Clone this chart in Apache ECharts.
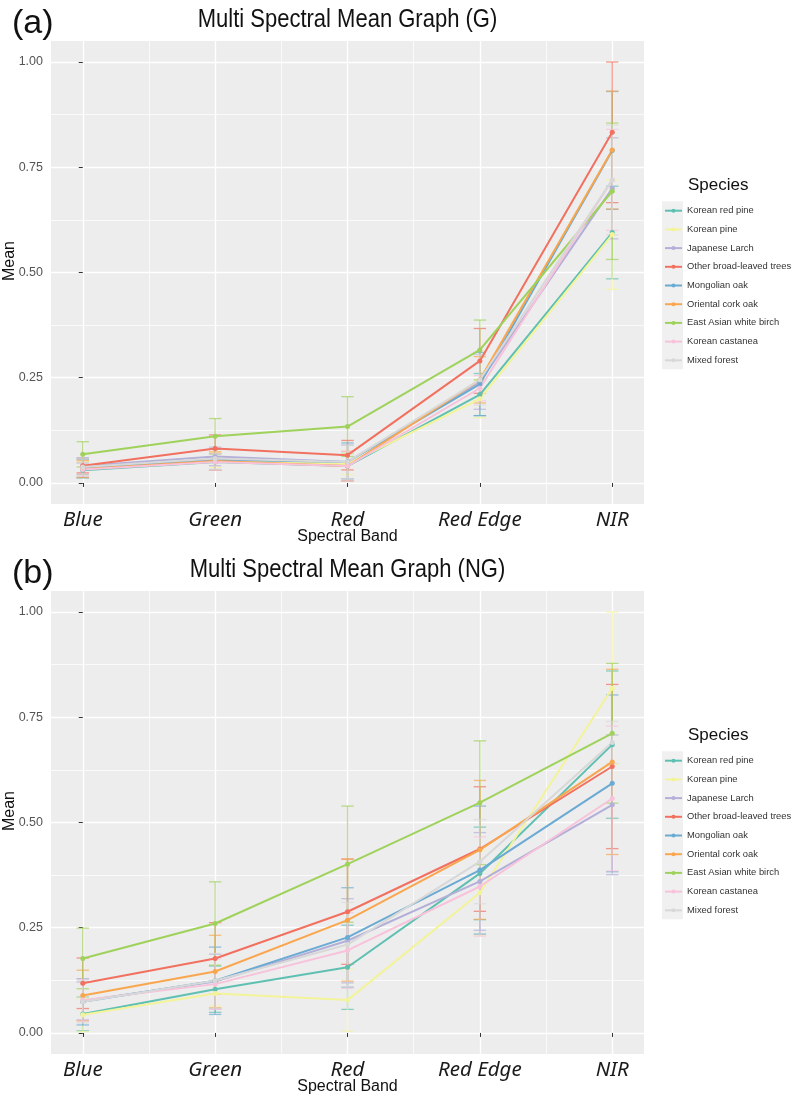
<!DOCTYPE html>
<html><head><meta charset="utf-8">
<script src="https://cdn.jsdelivr.net/npm/echarts@6/dist/echarts.min.js"></script>
<style>html,body{margin:0;padding:0;background:#fff}#c{width:807px;height:1094px}</style>
</head><body><div id="c"></div>
<script>
const bands = ['Blue', 'Green', 'Red', 'Red Edge', 'NIR'];
const species = ['Korean red pine', 'Korean pine', 'Japanese Larch', 'Other broad-leaved trees',
  'Mongolian oak', 'Oriental cork oak', 'East Asian white birch', 'Korean castanea', 'Mixed forest'];
const xMajorTicks = [0, 1, 2, 3, 4];
const xMinorTicks = [0.5, 1.5, 2.5, 3.5];
const yTickValues = [0, 0.25, 0.5, 0.75, 1.0];
const yMinorTicks = [0.125, 0.375, 0.625, 0.875];
const panelTitles = ['Multi Spectral Mean Graph (G)', 'Multi Spectral Mean Graph (NG)'];
const panelTags = ['(a)', '(b)'];

// Panel (a) G : means per band (Blue, Green, Red, Red Edge, NIR)
const gKoreanRedPine   = [0.030, 0.050, 0.040, 0.210, 0.595];
const gKoreanPine      = [0.035, 0.055, 0.045, 0.200, 0.590];
const gJapaneseLarch   = [0.040, 0.063, 0.050, 0.240, 0.700];
const gOtherBroad      = [0.041, 0.082, 0.066, 0.290, 0.833];
const gMongolianOak    = [0.035, 0.055, 0.050, 0.235, 0.790];
const gOrientalCorkOak = [0.033, 0.052, 0.040, 0.245, 0.791];
const gWhiteBirch      = [0.068, 0.111, 0.134, 0.316, 0.693];
const gKoreanCastanea  = [0.032, 0.050, 0.040, 0.225, 0.720];
const gMixedForest     = [0.038, 0.058, 0.050, 0.245, 0.720];
// Panel (a) G : standard deviations
const gKoreanRedPineSd   = [0.018, 0.020, 0.030, 0.050, 0.110];
const gKoreanPineSd      = [0.015, 0.018, 0.025, 0.045, 0.130];
const gJapaneseLarchSd   = [0.020, 0.022, 0.040, 0.065, 0.120];
const gOtherBroadSd      = [0.017, 0.032, 0.035, 0.077, 0.167];
const gMongolianOakSd    = [0.022, 0.025, 0.045, 0.075, 0.140];
const gOrientalCorkOakSd = [0.020, 0.022, 0.035, 0.055, 0.140];
const gWhiteBirchSd      = [0.030, 0.042, 0.071, 0.071, 0.162];
const gKoreanCastaneaSd  = [0.016, 0.020, 0.035, 0.030, 0.120];
const gMixedForestSd     = [0.020, 0.025, 0.040, 0.060, 0.130];

// Panel (b) NG : means
const ngKoreanRedPine   = [0.045, 0.104, 0.156, 0.379, 0.685];
const ngKoreanPine      = [0.043, 0.094, 0.078, 0.333, 0.819];
const ngJapaneseLarch   = [0.076, 0.122, 0.219, 0.360, 0.542];
const ngOtherBroad      = [0.118, 0.177, 0.288, 0.437, 0.633];
const ngMongolianOak    = [0.074, 0.124, 0.227, 0.387, 0.593];
const ngOrientalCorkOak = [0.089, 0.146, 0.268, 0.435, 0.644];
const ngWhiteBirch      = [0.177, 0.260, 0.401, 0.547, 0.712];
const ngKoreanCastanea  = [0.078, 0.116, 0.196, 0.348, 0.557];
const ngMixedForest     = [0.074, 0.124, 0.210, 0.407, 0.690];
// Panel (b) NG : standard deviations
const ngKoreanRedPineSd   = [0.040, 0.055, 0.100, 0.110, 0.175];
const ngKoreanPineSd      = [0.040, 0.030, 0.074, 0.100, 0.181];
const ngJapaneseLarchSd   = [0.045, 0.065, 0.100, 0.116, 0.166];
const ngOtherBroadSd      = [0.060, 0.085, 0.125, 0.148, 0.195];
const ngMongolianOakSd    = [0.055, 0.080, 0.118, 0.152, 0.210];
const ngOrientalCorkOakSd = [0.060, 0.086, 0.145, 0.165, 0.220];
const ngWhiteBirchSd      = [0.072, 0.099, 0.138, 0.147, 0.166];
const ngKoreanCastaneaSd  = [0.050, 0.060, 0.090, 0.118, 0.172];
const ngMixedForestSd     = [0.050, 0.065, 0.100, 0.100, 0.050];

const panelMeans = [
  [gKoreanRedPine, gKoreanPine, gJapaneseLarch, gOtherBroad, gMongolianOak, gOrientalCorkOak, gWhiteBirch, gKoreanCastanea, gMixedForest],
  [ngKoreanRedPine, ngKoreanPine, ngJapaneseLarch, ngOtherBroad, ngMongolianOak, ngOrientalCorkOak, ngWhiteBirch, ngKoreanCastanea, ngMixedForest]
];
const panelSds = [
  [gKoreanRedPineSd, gKoreanPineSd, gJapaneseLarchSd, gOtherBroadSd, gMongolianOakSd, gOrientalCorkOakSd, gWhiteBirchSd, gKoreanCastaneaSd, gMixedForestSd],
  [ngKoreanRedPineSd, ngKoreanPineSd, ngJapaneseLarchSd, ngOtherBroadSd, ngMongolianOakSd, ngOrientalCorkOakSd, ngWhiteBirchSd, ngKoreanCastaneaSd, ngMixedForestSd]
];

// ---- styling ----
const colors = ['#5fc0b2', '#f3f39a', '#b3afd8', '#f2705f', '#6aaad3', '#f9a64e', '#9fd25a', '#f7c2da', '#d8d8d8'];
const panelBg = '#ededed';
const gridLeft = 51, gridWidth = 593, gridHeight = 463;
const gridTops = [41, 591];
const hiddenTick = {show: true, length: 0.01, lineStyle: {color: 'rgba(0,0,0,0)', width: 0}};

const chart = echarts.init(document.getElementById('c'), null, {renderer: 'canvas'});

const grids = [], xAxes = [], yAxes = [], series = [], legends = [], graphics = [];
gridTops.forEach((top, p) => {
  grids.push({left: gridLeft, top: top, width: gridWidth, height: gridHeight,
    show: true, backgroundColor: panelBg, borderWidth: 0, containLabel: false});
  // major x axis
  xAxes.push({type: 'value', gridIndex: p, min: -0.24, max: 4.24,
    axisLine: {show: false},
    axisTick: {show: true, length: 4, lineStyle: {color: '#333', width: 1}, customValues: xMajorTicks},
    axisLabel: {show: true, margin: 6, fontFamily: 'Noto Sans', fontStyle: 'italic', fontSize: 20.5, color: '#1a1a1a',
      customValues: xMajorTicks,
      formatter: v => bands[Math.round(v)] || ''},
    splitLine: {show: true, lineStyle: {color: '#ffffff', width: 1.4}}
  });
  // minor x axis (grid only)
  xAxes.push({type: 'value', gridIndex: p, min: -0.24, max: 4.24, position: 'bottom',
    axisLine: {show: false}, axisTick: Object.assign({customValues: xMinorTicks}, hiddenTick),
    axisLabel: {show: false},
    splitLine: {show: true, lineStyle: {color: '#ffffff', width: 0.7}}
  });
  yAxes.push({type: 'value', gridIndex: p, min: -0.05, max: 1.05,
    axisLine: {show: false},
    axisTick: {show: true, length: 4, lineStyle: {color: '#333', width: 1}, customValues: yTickValues},
    axisLabel: {show: true, margin: 8, fontFamily: 'Liberation Sans', fontSize: 12.5, color: '#555',
      customValues: yTickValues, formatter: v => v.toFixed(2)},
    splitLine: {show: true, lineStyle: {color: '#ffffff', width: 1.4}}
  });
  yAxes.push({type: 'value', gridIndex: p, min: -0.05, max: 1.05, position: 'left',
    axisLine: {show: false}, axisTick: Object.assign({customValues: yMinorTicks}, hiddenTick),
    axisLabel: {show: false},
    splitLine: {show: true, lineStyle: {color: '#ffffff', width: 0.7}}
  });

  species.forEach((name, i) => {
    const means = panelMeans[p][i], sds = panelSds[p][i];
    series.push({
      type: 'custom', name: name + ' sd', xAxisIndex: p * 2, yAxisIndex: p * 2, z: 2,
      silent: true, clip: false,
      data: means.map((m, j) => [j, m - sds[j], m + sds[j]]),
      renderItem: (params, api) => {
        const x = api.value(0);
        const lo = api.coord([x, api.value(1)]);
        const hi = api.coord([x, api.value(2)]);
        const hw = 6.2;
        const st = {stroke: colors[i], lineWidth: 1.3, opacity: 0.7};
        return {type: 'group', children: [
          {type: 'line', shape: {x1: lo[0], y1: lo[1], x2: hi[0], y2: hi[1]}, style: st},
          {type: 'line', shape: {x1: hi[0] - hw, y1: hi[1], x2: hi[0] + hw, y2: hi[1]}, style: st},
          {type: 'line', shape: {x1: lo[0] - hw, y1: lo[1], x2: lo[0] + hw, y2: lo[1]}, style: st}
        ]};
      }
    });
    series.push({
      type: 'line', name: name, xAxisIndex: p * 2, yAxisIndex: p * 2, z: 3,
      data: means.map((m, j) => [j, m]),
      symbol: 'circle', symbolSize: 5, showSymbol: true,
      lineStyle: {color: colors[i], width: 2},
      itemStyle: {color: colors[i]},
      emphasis: {disabled: true}, animation: false
    });
  });

  const legTop = top + 162.7;
  legends.push({orient: 'vertical', left: 664, top: legTop, padding: 0, itemWidth: 17, itemHeight: 5, itemGap: 4.7,
    data: species, selectedMode: false,
    textStyle: {fontFamily: 'Liberation Sans', fontSize: 9.4, color: '#333', lineHeight: 14}});

  graphics.push({type: 'rect', left: 662, top: legTop - 2.5, z: -1,
    shape: {width: 21, height: 168}, style: {fill: '#f0f0f0'}});
  graphics.push({type: 'text', x: 688, y: top + 144, z: 10,
    style: {text: 'Species', font: '17px "Liberation Sans"', fill: '#111', align: 'left', verticalAlign: 'middle',
      textAlign: 'left', textVerticalAlign: 'middle'}});
  graphics.push({type: 'text', x: 12, y: top - 17, z: 10,
    style: {text: panelTags[p], font: '34px "Liberation Sans"', fill: '#111', align: 'left', verticalAlign: 'middle',
      textAlign: 'left', textVerticalAlign: 'middle'}});
  graphics.push({type: 'text', x: gridLeft + gridWidth / 2, y: top - 21, scaleX: 0.88, z: 10,
    style: {text: panelTitles[p], font: '25px "Liberation Sans"', fill: '#111', align: 'center', verticalAlign: 'middle',
      textAlign: 'center', textVerticalAlign: 'middle'}});
  graphics.push({type: 'text', x: gridLeft + gridWidth / 2, y: top + gridHeight + 33, z: 10,
    style: {text: 'Spectral Band', font: '16px "Liberation Sans"', fill: '#111', align: 'center', verticalAlign: 'middle',
      textAlign: 'center', textVerticalAlign: 'middle'}});
  graphics.push({type: 'text', x: 10, y: top + 220, rotation: Math.PI / 2, z: 10,
    style: {text: 'Mean', font: '16px "Liberation Sans"', fill: '#111', align: 'center', verticalAlign: 'middle',
      textAlign: 'center', textVerticalAlign: 'middle'}});
});

chart.setOption({
  animation: false,
  backgroundColor: '#ffffff',
  grid: grids, xAxis: xAxes, yAxis: yAxes, series: series, legend: legends,
  graphic: {elements: graphics}
});
</script></body></html>
